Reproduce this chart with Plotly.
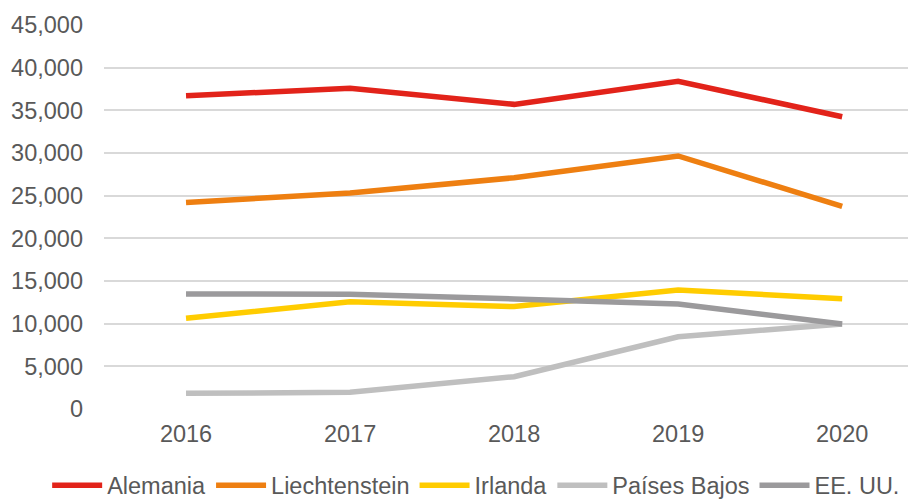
import plotly.graph_objects as go

years = ["2016", "2017", "2018", "2019", "2020"]
alemania = [36700, 37600, 35700, 38400, 34250]
liechtenstein = [24200, 25300, 27100, 29650, 23750]
irlanda = [10630, 12570, 12000, 13950, 12930]
paises_bajos = [1840, 1950, 3790, 8470, 9960]
eeuu = [13480, 13440, 12900, 12300, 9960]

series = [
    ("Alemania", alemania, "#E2231A"),
    ("Liechtenstein", liechtenstein, "#EE7F11"),
    ("Irlanda", irlanda, "#FFCC00"),
    ("Países Bajos", paises_bajos, "#BFBFBF"),
    ("EE. UU.", eeuu, "#9B9A9C"),
]

fig = go.Figure()
for name, vals, col in series:
    fig.add_trace(go.Scatter(x=list(range(len(years))), y=vals, name=name, mode="lines",
                             line=dict(color=col, width=5.5, shape="linear"),
                             hoverinfo="skip"))

font_col = "#595959"
# the page body has an 8px margin, so the figure is sized 908x492 to fill the 916x500 window
fig.update_layout(
    width=908, height=492,
    margin=dict(l=96, r=0, t=17, b=91, autoexpand=False),
    paper_bgcolor="white", plot_bgcolor="white",
    font=dict(family="Liberation Sans, Arial", size=23.5, color=font_col),
    showlegend=True,
    legend=dict(orientation="h", x=-0.07, xanchor="left",
                y=-0.199, yanchor="middle",
                font=dict(size=23.5, color=font_col),
                itemwidth=50, tracegroupgap=0, bgcolor="rgba(0,0,0,0)"),
)
fig.update_xaxes(range=[-0.5, 4.45], tickmode="array", tickvals=list(range(len(years))),
                 ticktext=years, showgrid=False, zeroline=False, showline=False,
                 ticks="", ticklabelstandoff=8, automargin=False)
fig.update_yaxes(range=[0, 45000], dtick=5000, tickformat=",", showgrid=True,
                 gridcolor="#D9D9D9", gridwidth=1.5, zeroline=False, showline=False,
                 ticks="", ticklabelstandoff=20, automargin=False)

fig.write_html("out.html")
